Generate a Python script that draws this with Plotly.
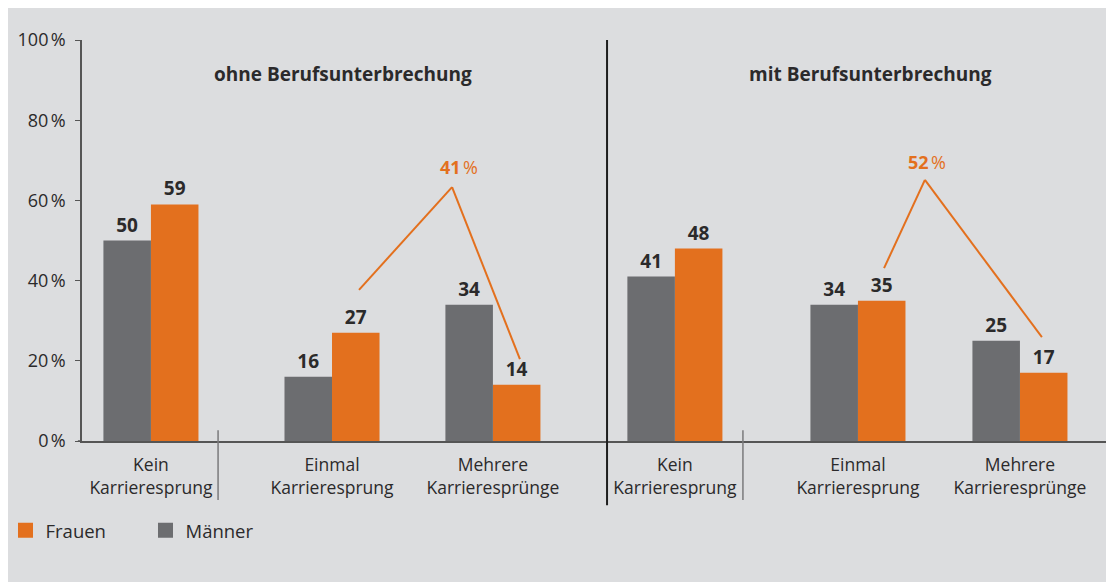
import plotly.graph_objects as go

# ---- data ----
categories = ["Kein<br>Karrieresprung", "Einmal<br>Karrieresprung", "Mehrere<br>Karrieresprünge",
              "Kein<br>Karrieresprung", "Einmal<br>Karrieresprung", "Mehrere<br>Karrieresprünge"]
panels = ["ohne Berufsunterbrechung", "mit Berufsunterbrechung"]
maenner = [50, 16, 34, 41, 34, 25]
frauen = [59, 27, 14, 48, 35, 17]
sum_labels = ["41", "52"]
y_ticks = [0, 20, 40, 60, 80, 100]
y_ticktext = [f"{v}\u202f%" for v in y_ticks]

# ---- layout constants ----
group_pos = [0.383, 1.389, 2.283, 3.294, 4.311, 5.211]
bar_w = 0.264
x_max = 5.728
BG = "#dcdddf"
GRAY = "#6c6d70"
ORANGE = "#e3701e"
TXT = "#2b2a2b"
FONT = "Open Sans"

fig = go.Figure()
fig.add_trace(go.Bar(
    name="Frauen", x=[p + bar_w / 2 for p in group_pos], y=frauen, width=bar_w,
    marker=dict(color=ORANGE, line=dict(width=0)), showlegend=False,
    text=[str(v) for v in frauen], textposition="outside",
    textfont=dict(family=FONT, size=19, color=TXT, weight="bold"), cliponaxis=False,
))
fig.add_trace(go.Bar(
    name="Männer", x=[p - bar_w / 2 for p in group_pos], y=maenner, width=bar_w,
    marker=dict(color=GRAY, line=dict(width=0)), showlegend=False,
    text=[str(v) for v in maenner], textposition="outside",
    textfont=dict(family=FONT, size=19, color=TXT, weight="bold"), cliponaxis=False,
))
# legend entries (square swatches)
for nm, col in [("Frauen", ORANGE), ("Männer", GRAY)]:
    fig.add_trace(go.Scatter(
        name=nm, x=[None], y=[None], mode="markers",
        marker=dict(symbol="square", size=15, color=col, line=dict(width=0)),
        showlegend=True, hoverinfo="skip",
    ))

shapes = []
# panel divider
shapes.append(dict(type="line", xref="x", yref="paper", x0=2.917, x1=2.917, y0=1.0, y1=-0.16,
                   line=dict(color="#1e1e1e", width=2)))
# small separators after "Kein"
for xs in [0.756, 3.672]:
    shapes.append(dict(type="line", xref="x", yref="paper", x0=xs, x1=xs, y0=0.027, y1=-0.147,
                       line=dict(color="#7a7a7c", width=1.5)))
# right end tick
shapes.append(dict(type="line", xref="paper", yref="paper", x0=0.9995, x1=0.9995, y0=0, y1=-0.012,
                   line=dict(color="#555", width=1.5)))
# x axis overhang left of y axis
shapes.append(dict(type="line", xref="paper", yref="paper", x0=-0.004, x1=0, y0=0, y1=0,
                   line=dict(color="#555", width=1.5)))
# bracket lines
brackets = [
    [(1.539, 37.7), (2.056, 63.3), (2.433, 20.4)],
    [(4.456, 43.1), (4.683, 65.1), (5.333, 25.9)],
]
for pts in brackets:
    for (xa, ya), (xb, yb) in zip(pts[:-1], pts[1:]):
        shapes.append(dict(type="line", xref="x", yref="y", x0=xa, y0=ya, x1=xb, y1=yb,
                           line=dict(color=ORANGE, width=2)))

annotations = []
for name, xp in zip(panels, [1.45, 4.383]):
    annotations.append(dict(text=f"<b>{name}</b>", x=xp, y=91.5, xref="x", yref="y",
                            showarrow=False, font=dict(family=FONT, size=19, color=TXT)))
for lbl, (xp, yp) in zip(sum_labels, [(2.094, 68.3), (4.694, 69.6)]):
    annotations.append(dict(text=f"<b>{lbl}</b>\u202f%", x=xp, y=yp, xref="x", yref="y",
                            showarrow=False, font=dict(family=FONT, size=18, color=ORANGE)))

fig.update_layout(
    width=1106, height=574,
    margin=dict(l=74, r=1, t=32, b=141, autoexpand=False),
    paper_bgcolor=BG, plot_bgcolor=BG,
    barmode="overlay",
    font=dict(family=FONT, size=17, color=TXT),
    showlegend=True,
    legend=dict(orientation="h", x=-0.0742, y=-0.224, xanchor="left", yanchor="middle",
                traceorder="normal", font=dict(family=FONT, size=18.5, color=TXT),
                bgcolor="rgba(0,0,0,0)", entrywidth=95, itemclick=False, itemdoubleclick=False),
    shapes=shapes,
    annotations=annotations,
    xaxis=dict(range=[0, x_max], tickvals=group_pos, ticktext=categories, showgrid=False,
               zeroline=False, showline=True, linecolor="#555", linewidth=1.5, ticks="",
               ticklabelstandoff=7,
               tickfont=dict(family=FONT, size=17.5, color=TXT), fixedrange=True),
    yaxis=dict(range=[0, 100], tickvals=y_ticks, ticktext=y_ticktext, showgrid=False,
               zeroline=False, showline=True, linecolor="#555", linewidth=1.5, ticks="outside",
               ticklen=5, tickcolor="#555", ticklabelstandoff=6,
               tickfont=dict(family=FONT, size=18, color=TXT), fixedrange=True),
)

fig.write_html("out.html")
